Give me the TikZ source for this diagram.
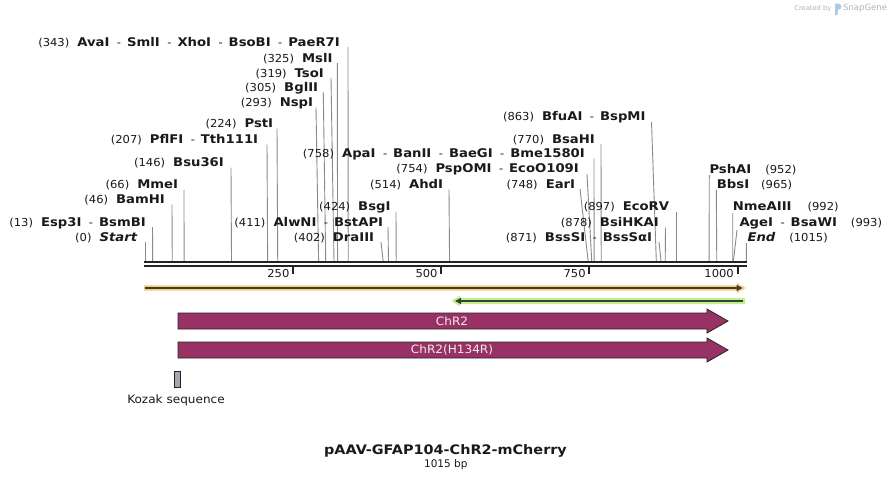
\documentclass[tikz,border=0pt]{standalone}
\usepackage{fontspec}
\setmainfont{DejaVu Sans}
\newfontfamily\enzfont{DejaVu Sans}[FakeStretch=1.1]
\newfontfamily\numfont{DejaVu Sans}[FakeStretch=1.05]
\usetikzlibrary{arrows.meta}
\definecolor{txt}{HTML}{1A1A1A}
\definecolor{lead}{HTML}{8A8A8A}
\definecolor{rul}{HTML}{222222}
\definecolor{orl}{HTML}{FDC877}
\definecolor{grl}{HTML}{BDF28A}
\definecolor{fdark}{HTML}{3C3C3C}
\definecolor{chr}{HTML}{993264}
\definecolor{koz}{HTML}{A4A9B0}
\definecolor{sg}{HTML}{B4B4B4}
\definecolor{sgb}{HTML}{A8CBEA}
\newcommand\nm[1]{{\numfont\fontsize{11}{13}\selectfont(#1)}}
\newcommand\en[1]{{\enzfont\bfseries\fontsize{12}{14}\selectfont #1}}
\newcommand\ei[1]{{\enzfont\bfseries\itshape\fontsize{12}{14}\selectfont #1}}
\newcommand\dd{{\numfont\fontsize{11}{13}\selectfont\hspace{7.5pt}-\hspace{6pt}}}
\newcommand\gp{\hspace{8pt}}
\newcommand\gr{\hspace{14pt}}
\begin{document}
\begin{tikzpicture}[x=1pt,y=-1pt,
  lab/.style={inner sep=0pt, text=txt},
  labl/.style={lab, anchor=base east},
  labr/.style={lab, anchor=base west},
  leader/.style={draw=lead, line width=0.9pt},
  featarrow/.style={draw=rul, fill=chr, line width=0.8pt},
  feattext/.style={inner sep=0pt, text={rgb,255:red,245;green,232;blue,238}, font=\numfont\fontsize{11.5}{13}\selectfont}]
\useasboundingbox (0,0) rectangle (892,482);
\fill[white] (0,0) rectangle (892,482);

% --- leader lines (top x, top y, bp)
\foreach \tx/\ty/\bp in {348/47/343, 337.3/63/325, 331/78/319, 323.3/92.5/305, 316/107.5/293,
  277/128.5/224, 267/144.5/207, 231/167.5/146, 184/189.5/66, 172/204.5/46, 152.5/227/13, 145/242/0,
  388/227/411, 381/242/402, 396/211.5/424, 449/189.5/514,
  594/158.5/758, 587/174/754, 580/189/748, 601/144/770, 651.5/122/863,
  676.5/212/897, 665.5/227.5/878, 659/242/871,
  709.3/175/952, 716.3/189.5/965, 732.7/213/992, 737/230/993, 746.4/243/1015}
  \draw[leader] (\tx,\ty) -- ({145+0.5925*\bp},261.5);

% --- left labels
\node[labl] (avai) at (340,46.5) {\nm{343}\gp\en{AvaI}\dd\en{SmlI}\dd\en{XhoI}\dd\en{BsoBI}\dd\en{PaeR7I}};
\node[labl] (msli) at (332.7,62) {\nm{325}\gp\en{MslI}};
\node[labl] (tsoi) at (324,77) {\nm{319}\gp\en{TsoI}};
\node[labl] (bglii) at (318.3,91.5) {\nm{305}\gp\en{BglII}};
\node[labl] (nspi) at (313.3,106.5) {\nm{293}\gp\en{NspI}};
\node[labl] (psti) at (273.3,127.5) {\nm{224}\gp\en{PstI}};
\node[labl] (pflfi) at (258.3,143) {\nm{207}\gp\en{PflFI}\dd\en{Tth111I}};
\node[labl] (bsu) at (224,166.5) {\nm{146}\gp\en{Bsu36I}};
\node[labl] (mmei) at (178.3,188.5) {\nm{66}\gp\en{MmeI}};
\node[labl] (bamhi) at (165,203.5) {\nm{46}\gp\en{BamHI}};
\node[labl] (esp) at (146,226) {\nm{13}\gp\en{Esp3I}\dd\en{BsmBI}};
\node[labl] (start) at (137.3,241) {\nm{0}\gp\ei{Start}};
\node[labl] (alwni) at (383.3,226) {\nm{411}\gp\en{AlwNI}\dd\en{BstAPI}};
\node[labl] (draiii) at (374.3,241) {\nm{402}\gp\en{DraIII}};
\node[labl] (bsgi) at (390.7,210.5) {\nm{424}\gp\en{BsgI}};
\node[labl] (ahdi) at (443.3,188.5) {\nm{514}\gp\en{AhdI}};
\node[labl] (apai) at (585,157.5) {\nm{758}\gp\en{ApaI}\dd\en{BanII}\dd\en{BaeGI}\dd\en{Bme1580I}};
\node[labl] (pspomi) at (579,172.5) {\nm{754}\gp\en{PspOMI}\dd\en{EcoO109I}};
\node[labl] (eari) at (575.3,188) {\nm{748}\gp\en{EarI}};
\node[labl] (bsahi) at (595,143) {\nm{770}\gp\en{BsaHI}};
\node[labl] (bfuai) at (645.7,120.5) {\nm{863}\gp\en{BfuAI}\dd\en{BspMI}};
\node[labl] (ecorv) at (669.3,210.5) {\nm{897}\gp\en{EcoRV}};
\node[labl] (bsihkai) at (659,226) {\nm{878}\gp\en{BsiHKAI}};
\node[labl] (bsssi) at (652.3,241) {\nm{871}\gp\en{BssSI}\dd\en{BssSαI}};
% --- right labels
\node[labr] (pshai) at (709.3,173.3) {\en{PshAI}\gr\nm{952}};
\node[labr] (bbsi) at (716.7,188) {\en{BbsI}\hspace{12pt}\nm{965}};
\node[labr] (nmeaiii) at (732.7,210.5) {\en{NmeAIII}\hspace{16pt}\nm{992}};
\node[labr] (agei) at (739.3,226) {\en{AgeI}\dd\en{BsaWI}\gr\nm{993}};
\node[labr] (endl) at (747.3,241) {\ei{End}\gr\nm{1015}};

% --- ruler
\draw[rul, line width=2.2pt] (144,262.3) -- (747,262.3);
\draw[rul, line width=2pt] (144,266) -- (747,266);
\foreach \v in {250,500,750,1000} {
  \draw[rul, line width=2pt] ({145+0.5925*\v},266) -- ++(0,7.5);
  \node[lab, anchor=base east, font=\numfont\fontsize{11}{13}\selectfont] (t\v) at ({145+0.5925*\v-3.5},277.3) {\v};
}

% --- orange feature (forward)
\fill[orl] (144,285.3) -- (737,285.3) -- (737,283) -- (745.5,288) -- (737,293) -- (737,290.7) -- (144,290.7) -- cycle;
\draw[fdark, line width=1.4pt, -{Triangle[length=6pt,width=6pt]}] (145,288) -- (742.5,288);

% --- green feature (reverse)
\fill[grl] (745,298) -- (460,298) -- (460,295.5) -- (451.5,301) -- (460,306.5) -- (460,304) -- (745,304) -- cycle;
\draw[fdark, line width=1.4pt, -{Triangle[length=6pt,width=6pt]}] (742.5,301) -- (455,301);

% --- ChR2 features
\draw[featarrow] (178,313) -- (707,313) -- (707,309) -- (728,321) -- (707,333) -- (707,329) -- (178,329) -- cycle;
\node[feattext] (chr2) at (452,321) {ChR2};
\draw[featarrow] (178,342) -- (707,342) -- (707,338) -- (728,350) -- (707,362) -- (707,358) -- (178,358) -- cycle;
\node[feattext] (chr2b) at (452,350) {ChR2(H134R)};

% --- Kozak
\draw[fill=koz, draw=rul, line width=0.7pt] (174.5,371) rectangle (180.5,387.5);
\node[lab, font=\numfont\fontsize{11.5}{13}\selectfont] (kozak) at (176,400) {Kozak sequence};

% --- title
\node[lab, font=\enzfont\bfseries\fontsize{13.1}{16}\selectfont] (title) at (445.5,451) {pAAV-GFAP104-ChR2-mCherry};
\node[lab, font=\fontsize{10.5}{12}\selectfont] (bp) at (445.8,464.5) {1015 bp};

% --- created by
\node[inner sep=0pt, anchor=base east, text=sg, font=\fontsize{6.7}{8}\selectfont] (cby) at (831.5,10) {Created by};
\fill[sgb] (835,3.5) -- (838.5,3.5) .. controls (842.5,4) and (842.5,9.5) .. (838,10) -- (837.5,15) -- (835,15) -- cycle;
\node[inner sep=0pt, anchor=base west, text=sg, font=\fontsize{8.5}{10}\selectfont] (sgn) at (843,10.5) {SnapGene};
\end{tikzpicture}
\end{document}
